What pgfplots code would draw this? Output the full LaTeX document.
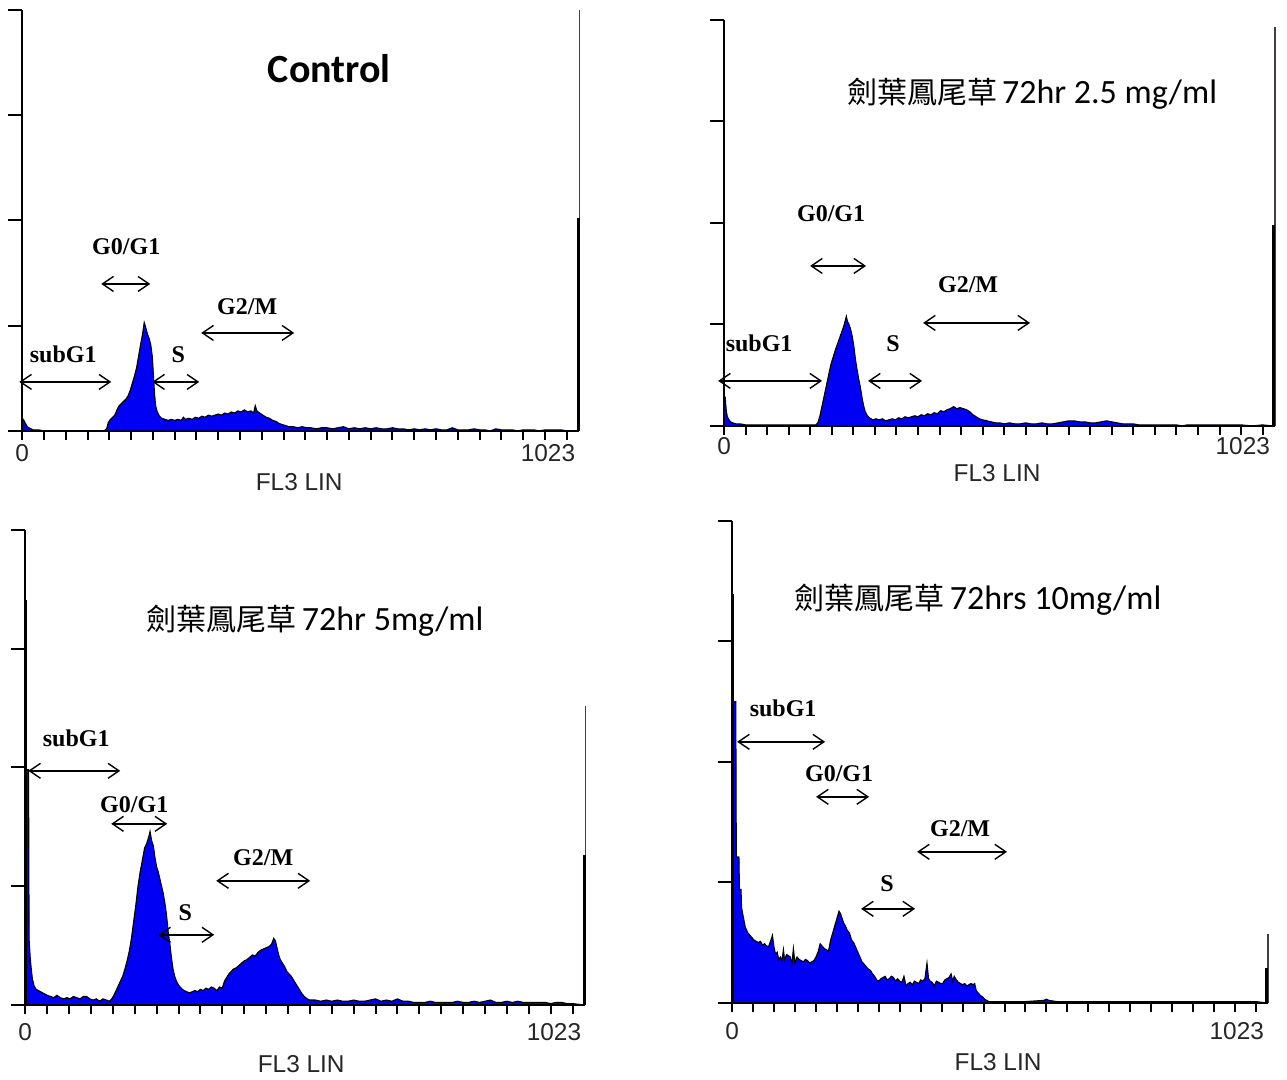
\documentclass[border=0pt]{standalone}
\usepackage{fontspec}
\usepackage{pgfplots}
\pgfplotsset{compat=1.18}
\usetikzlibrary{arrows.meta}
\setmainfont{Liberation Serif}
\newfontfamily\lblfont{Liberation Sans}
\newfontfamily\calfont{Carlito}
\newfontfamily\cjk{Noto Sans CJK TC}
\definecolor{hblue}{RGB}{0,0,245}
\definecolor{lblgray}{RGB}{38,38,38}

\pgfplotsset{
  flow/.style={
    scale only axis, anchor=south west,
    xmin=0, xmax=1023, ymin=0, ymax=400,
    axis x line=bottom, axis y line=left,
    every outer x axis line/.append style={-, line width=1pt},
    every outer y axis line/.append style={-, line width=1pt},
    xtick pos=bottom, ytick pos=left,
    xtick={0,40,...,1000}, xticklabels={},
    ytick={0,100,...,400}, yticklabels={},
    tick align=outside,
    x tick style={black, line width=1pt, /pgfplots/major tick length=4.5pt},
    y tick style={black, line width=1pt, /pgfplots/major tick length=7pt},
    clip=false,
  },
  hist/.style={fill=hblue, draw=black, line width=0.55pt},
  spk/.style={black, line width=1.5pt},
  thn/.style={black!75, line width=0.6pt},
}
\tikzset{
  arr/.style={{Straight Barb[length=5.5pt,width=7.5pt]}-{Straight Barb[length=5.5pt,width=7.5pt]}, line width=0.7pt},
  ann/.style={anchor=base, font={\fontsize{12pt}{14pt}\selectfont\bfseries}},
  lbl/.style={anchor=base, text=lblgray, font={\lblfont\fontsize{12.2pt}{14pt}\selectfont}},
}

\begin{document}
\begin{tikzpicture}
\begin{scope}[x=0.5pt,y=-0.5pt]
\path[use as bounding box] (0,0) rectangle (1287,1079);
\end{scope}

% ---------------- Panel 1: Control ----------------
\begin{axis}[flow, at={(11pt,-215.5pt)}, width=278.5pt, height=210.5pt]
\addplot[hist] table {
x y
0 12
3 10
6 7
9 4
12 3
16 2
20 1
30 1
40 0
150 0
155 2
158 8
162 11
166 13
170 15
174 20
178 24
182 26
186 28
190 30
194 33
198 38
202 45
206 52
210 60
214 72
218 84
221 92
224 103
227 98
230 92
233 88
236 82
239 70
241 52
243 35
245 24
248 18
252 14
256 12
262 11
268 10
274 11
280 10
286 11
292 10
296 13
300 11
306 12
312 11
318 13
324 12
330 14
336 13
342 15
348 14
354 15
360 16
366 15
372 17
378 16
384 18
390 17
396 19
402 18
408 20
414 18
420 19
425 17
428 24
431 19
436 17
442 15
448 13
454 12
460 10
466 9
472 7
478 6
484 5
490 4
498 4
506 3
514 4
522 3
530 3
540 2
550 3
560 3
570 2
580 3
590 4
600 2
610 3
620 2
630 3
640 2
650 3
660 2
670 2
680 3
690 2
700 2
710 1
720 2
730 1
740 2
750 1
760 2
770 1
780 1
790 3
800 1
810 1
820 1
830 2
840 1
850 1
860 0
870 2
880 1
890 1
900 1
910 0
920 1
930 1
940 1
950 0
960 1
970 1
980 1
990 1
1000 0
1018 0
} \closedcycle;
\addplot[thn] coordinates {(1023,0) (1023,400)};
\addplot[spk] coordinates {(1021,0) (1021,202)};
\end{axis}

% ---------------- Panel 2: 2.5 mg/ml ----------------
\begin{axis}[flow, at={(362pt,-213pt)}, width=275.5pt, height=203pt]
\addplot[hist] table {
x y
0 30
2 28
4 15
6 9
9 6
12 4
16 3
22 2
30 2
40 1
60 1
80 1
100 1
120 1
140 1
160 1
170 1
174 3
178 10
182 20
186 30
190 40
194 50
198 60
202 67
206 74
210 80
214 86
218 92
222 98
225 104
227 108
229 103
232 100
235 95
238 88
241 78
244 65
247 55
250 46
253 38
256 28
259 20
262 14
266 10
270 8
276 6
282 7
288 6
294 7
300 5
306 6
312 7
318 6
324 8
330 7
336 9
342 8
348 9
354 10
360 9
366 11
372 10
378 12
384 11
390 13
396 12
402 15
408 14
414 16
420 17
426 19
432 17
438 18
444 17
450 16
456 14
462 11
468 9
474 7
480 6
488 5
496 4
504 3
512 3
520 2
530 3
540 2
550 2
560 3
570 2
580 2
590 3
600 2
610 2
620 3
630 4
640 5
650 5
660 4
670 4
680 3
690 3
700 4
710 5
720 4
730 3
740 2
750 2
760 2
770 1
780 1
790 1
800 1
810 1
820 1
830 1
840 1
850 0
860 1
870 1
880 1
900 1
920 1
940 1
960 1
980 0
1000 1
1018 0
} \closedcycle;
\addplot[thn] coordinates {(1023,0) (1023,393)};
\addplot[spk] coordinates {(1021,0) (1021,198)};
\end{axis}

% ---------------- Panel 3: 5 mg/ml ----------------
\begin{axis}[flow, at={(12.5pt,-502.5pt)}, width=280pt, height=237.5pt]
\addplot[hist] table {
x y
0 198
6 198
7 55
9 40
11 30
13 22
16 16
20 13
24 12
28 11
32 10
36 9
40 8
46 7
52 6
58 8
64 6
70 5
76 6
82 5
88 7
94 6
100 5
106 7
112 7
118 5
124 4
130 5
136 3
142 5
148 4
154 3
158 5
162 8
166 12
170 16
174 20
178 24
182 30
186 37
190 45
194 56
198 70
202 84
206 100
210 112
214 122
218 132
222 136
226 142
228 146
231 138
234 134
237 124
240 116
243 112
246 106
249 100
252 94
255 86
258 76
261 62
264 52
267 40
270 30
273 24
277 19
281 16
285 14
290 12
295 11
300 10
305 11
310 12
315 11
320 13
325 12
330 14
335 13
340 15
345 14
350 12
355 15
360 14
364 20
368 23
372 26
376 28
380 30
385 31
390 33
395 35
400 37
405 38
410 40
415 42
420 41
425 44
430 46
435 47
440 48
445 49
450 51
454 56
457 54
460 48
463 42
466 38
470 35
474 32
478 28
482 26
486 24
490 21
494 18
498 15
502 12
506 9
510 7
515 5
520 4
530 4
540 3
550 4
560 3
570 4
580 3
590 3
600 4
610 3
620 3
630 4
640 5
650 3
660 4
670 3
680 5
690 3
700 3
710 2
720 2
730 2
740 3
750 2
760 2
770 2
780 2
790 3
800 2
810 2
820 3
830 2
840 3
850 4
860 2
870 2
880 3
890 2
900 3
910 2
920 2
930 2
940 2
950 2
960 1
970 2
980 2
990 1
1000 1
1018 0
} \closedcycle;
\addplot[black, line width=1.2pt] coordinates {(1,0) (1,341)};
\addplot[thn] coordinates {(1023,0) (1023,252)};
\addplot[spk] coordinates {(1021,0) (1021,126)};
\end{axis}

% ---------------- Panel 4: 10 mg/ml ----------------
\begin{axis}[flow, at={(366pt,-501.5pt)}, width=268pt, height=241pt]
\addplot[hist] table {
x y
0 250
7 250
8 121
13 121
14 94
17 94
18 79
21 72
25 63
30 58
34 56
38 54
42 52
46 51
50 50
54 51
58 48
62 49
66 47
70 47
74 52
77 56
80 46
83 40
86 42
89 36
92 38
95 35
98 44
100 36
104 40
108 39
111 38
114 32
117 45
120 33
124 38
128 36
132 35
136 34
140 36
144 35
148 33
152 34
156 35
160 38
164 42
168 49
172 47
176 45
180 44
184 43
188 52
192 58
196 64
200 70
204 76
207 74
210 70
213 66
216 64
220 60
224 58
228 52
232 50
236 46
240 42
244 38
248 34
252 32
256 30
260 28
264 27
268 24
272 22
276 19
280 18
284 20
288 21
292 22
296 19
300 20
304 22
308 21
312 18
316 20
320 18
324 17
328 22
332 14
336 16
340 17
344 15
348 18
352 17
356 16
360 19
364 18
368 20
372 33
375 20
378 18
382 17
386 14
390 18
394 17
398 16
402 16
406 19
410 20
414 21
418 24
421 18
424 22
428 19
432 17
436 16
440 15
444 16
448 14
452 15
456 16
460 15
463 16
466 10
470 8
474 6
478 5
482 3
486 2
490 1
520 1
560 1
595 2
600 3
605 2
620 1
700 1
800 1
900 1
1000 1
1018 0
} \closedcycle;
\addplot[black, line width=1.2pt] coordinates {(1,0) (1,339)};
\addplot[thn] coordinates {(1023,0) (1023,57)};
\addplot[spk] coordinates {(1021,0) (1021,29)};
\end{axis}

% ---------------- annotations ----------------
\begin{scope}[x=0.5pt,y=-0.5pt]
% Panel 1
\node[anchor=base] at (329,83) {\calfont\bfseries\fontsize{20pt}{24pt}\selectfont Control};
\node[ann] at (126,255) {G0/G1};
\draw[arr] (101,284) -- (150,284);
\node[ann] at (63,363) {subG1};
\draw[arr] (19,382) -- (111,382);
\node[ann] at (178,363) {S};
\draw[arr] (152,382) -- (199,382);
\node[ann] at (247,315) {G2/M};
\draw[arr] (201,333) -- (294,333);
\node[lbl] at (22,462) {0};
\node[lbl, anchor=base east] at (582,462) {1023};
\node[lbl] at (299,491) {FL3 LIN};

% Panel 2
\node[anchor=base] at (1032,104) {{\cjk\fontsize{15pt}{18pt}\selectfont 劍葉鳳尾草} {\calfont\fontsize{17pt}{20pt}\selectfont 72hr 2.5 mg/ml}};
\node[ann] at (831,222) {G0/G1};
\draw[arr] (810,266) -- (866,266);
\node[ann] at (968,293) {G2/M};
\draw[arr] (923,323) -- (1030,323);
\node[ann] at (759,352) {subG1};
\draw[arr] (718,381) -- (822,381);
\node[ann] at (893,352) {S};
\draw[arr] (868,381) -- (922,381);
\node[lbl] at (724,455) {0};
\node[lbl, anchor=base east] at (1277,455) {1023};
\node[lbl] at (997,482) {FL3 LIN};

% Panel 3
\node[anchor=base] at (315,631) {{\cjk\fontsize{15pt}{18pt}\selectfont 劍葉鳳尾草} {\calfont\fontsize{17pt}{20pt}\selectfont 72hr 5mg/ml}};
\node[ann] at (76,747) {subG1};
\draw[arr] (28,771) -- (120,771);
\node[ann] at (134,813) {G0/G1};
\draw[arr] (111,824) -- (167,824);
\node[ann] at (185,921) {S};
\draw[arr] (158,935) -- (214,935);
\node[ann] at (263,866) {G2/M};
\draw[arr] (216,881) -- (310,881);
\node[lbl] at (25,1041) {0};
\node[lbl, anchor=base east] at (588,1041) {1023};
\node[lbl] at (301,1073) {FL3 LIN};

% Panel 4
\node[anchor=base] at (978,610) {{\cjk\fontsize{15pt}{18pt}\selectfont 劍葉鳳尾草} {\calfont\fontsize{17pt}{20pt}\selectfont 72hrs 10mg/ml}};
\node[ann] at (783,717) {subG1};
\draw[arr] (737,742) -- (825,742);
\node[ann] at (839,782) {G0/G1};
\draw[arr] (816,797) -- (869,797);
\node[ann] at (960,837) {G2/M};
\draw[arr] (917,852) -- (1007,852);
\node[ann] at (887,892) {S};
\draw[arr] (861,909) -- (915,909);
\node[lbl] at (732,1040) {0};
\node[lbl, anchor=base east] at (1271,1040) {1023};
\node[lbl] at (998,1071) {FL3 LIN};
\end{scope}
\end{tikzpicture}
\end{document}
